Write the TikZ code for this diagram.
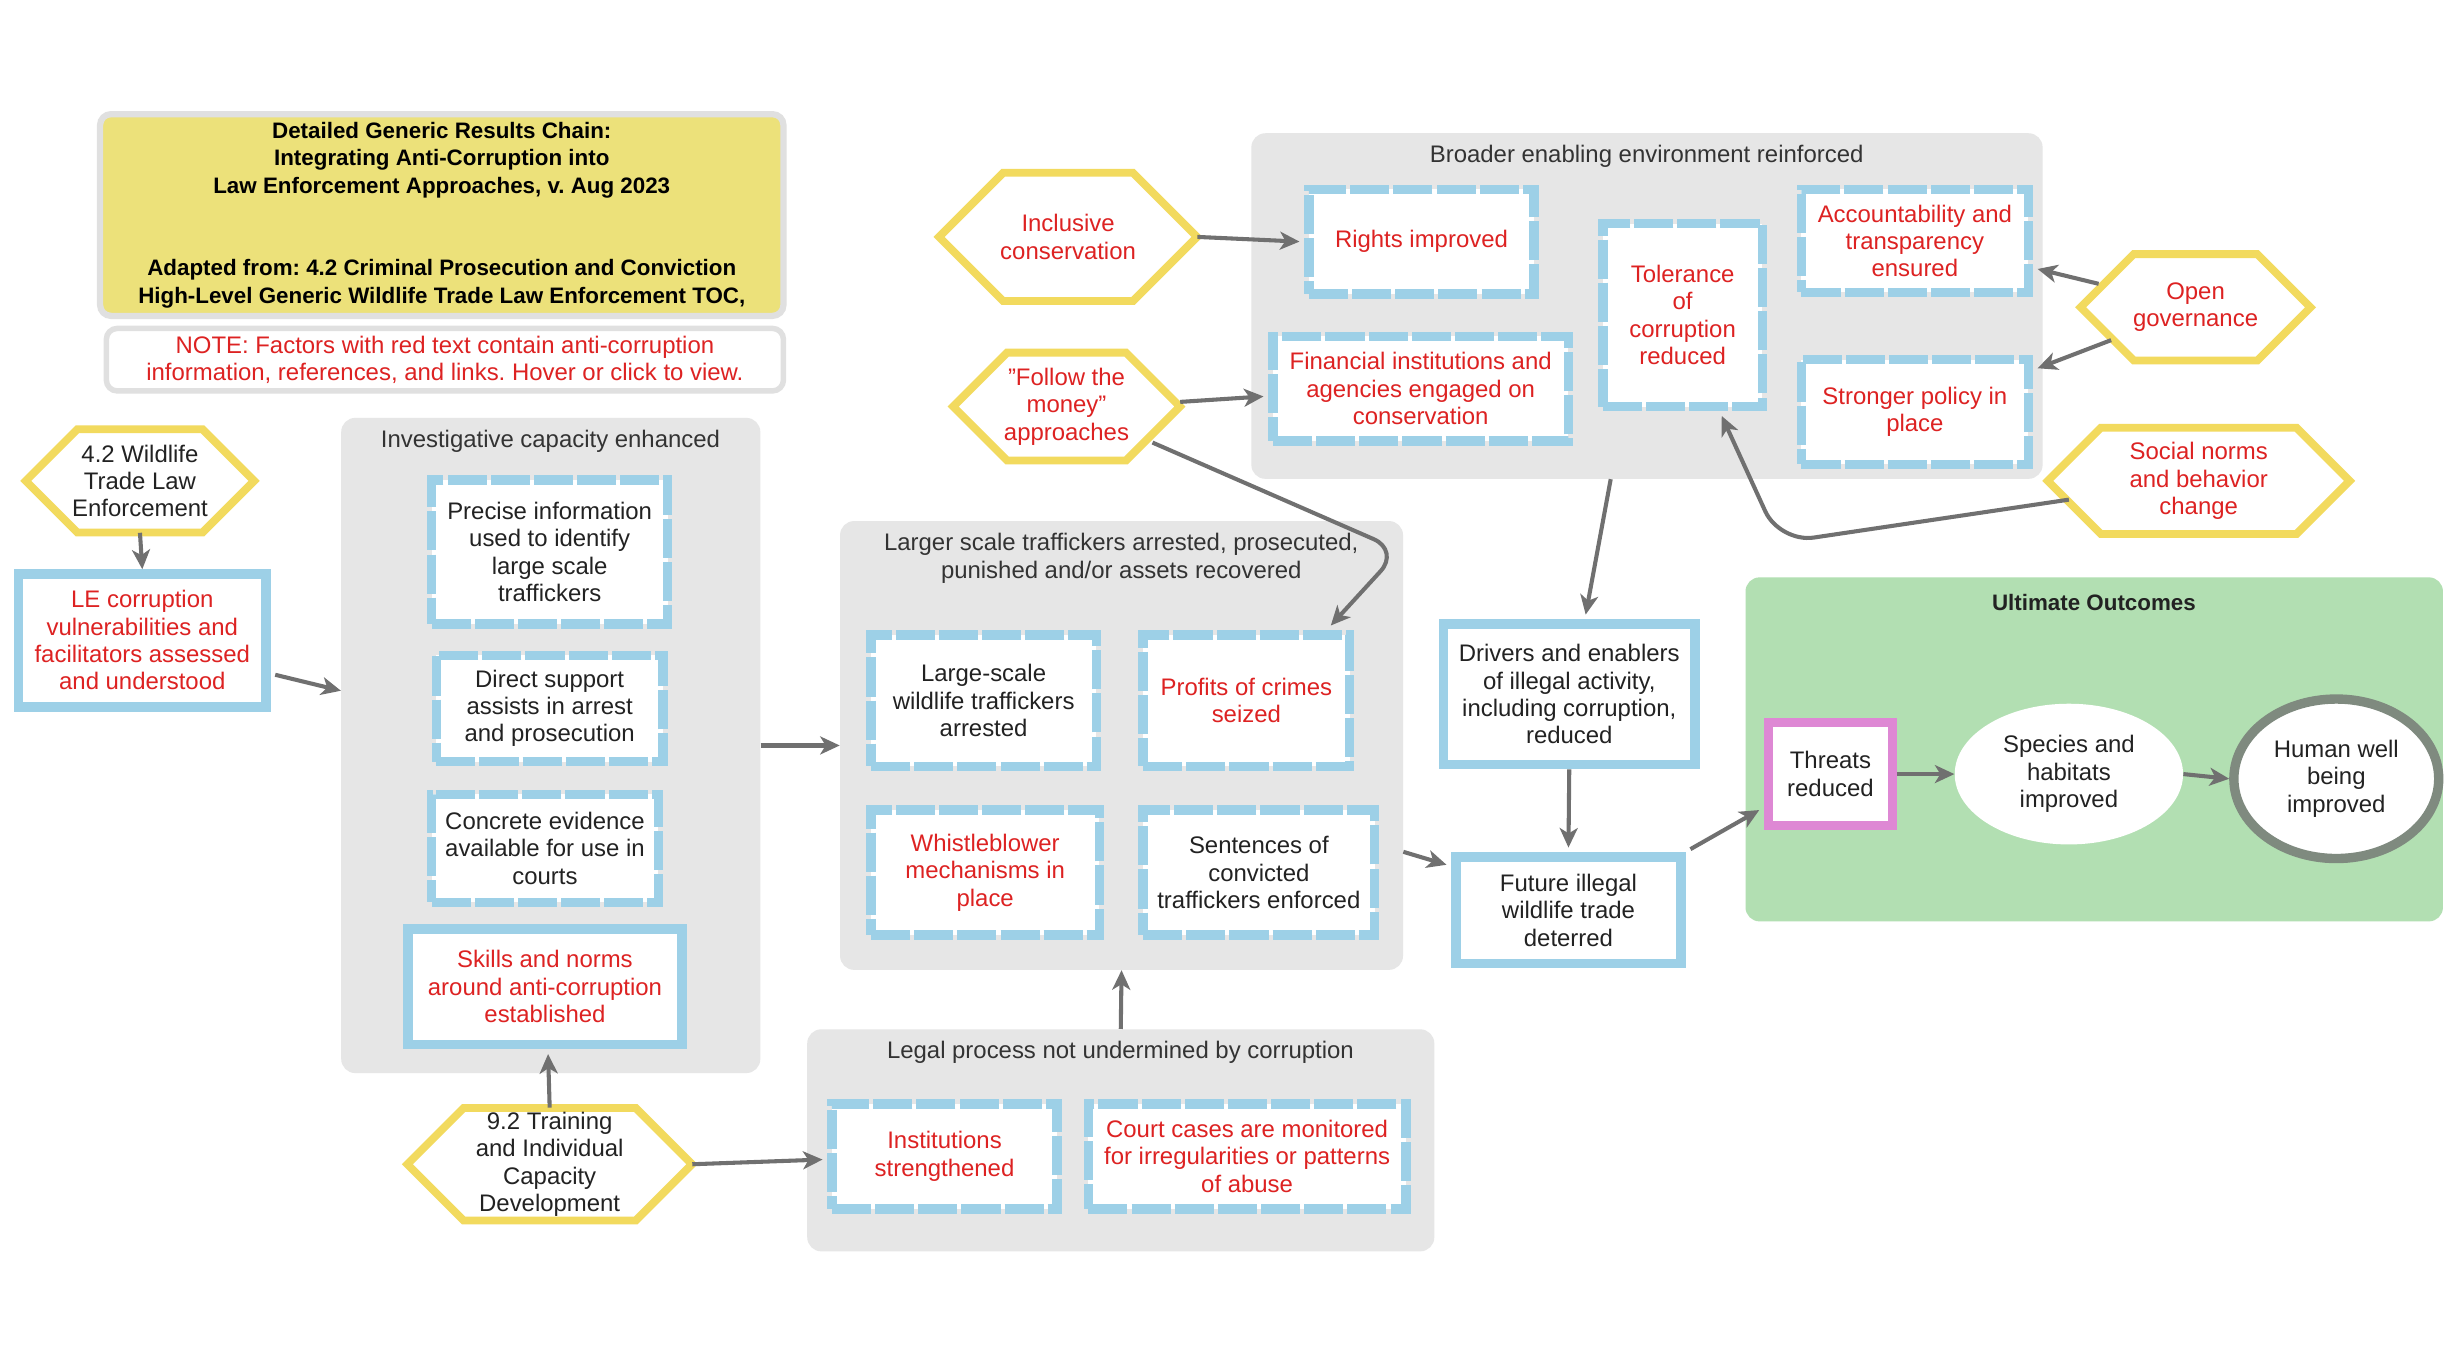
\documentclass[tikz,border=0pt]{standalone}
\usepackage{fontspec}
\setmainfont{Liberation Sans}
\frenchspacing
\usetikzlibrary{arrows.meta,calc,shapes.geometric}
\definecolor{lblue}{HTML}{9DD0E7}
\definecolor{hexy}{HTML}{F2DA5E}
\definecolor{titley}{HTML}{ECE17A}
\definecolor{grpgray}{HTML}{E6E6E6}
\definecolor{boxgray}{HTML}{E0E0E0}
\definecolor{ugreen}{HTML}{B2DFB2}
\definecolor{pinkb}{HTML}{DE88D4}
\definecolor{redt}{HTML}{DD2222}
\definecolor{arrg}{HTML}{707070}
\definecolor{humang}{HTML}{7F8A7F}
\definecolor{txt}{HTML}{222222}
\definecolor{grptxt}{HTML}{333333}
\tikzset{
  base/.style={align=center, font=\fontsize{15.3}{17.5}\selectfont\frenchspacing, text=txt, inner sep=0pt},
  redtxt/.style={text=redt},
  dbox/.style={base, draw=lblue, line width=6pt, dash pattern=on 25pt off 2.6pt, fill=white},
  sbox/.style={base, draw=lblue, line width=6pt, fill=white},
  grp/.style={fill=grpgray, rounded corners=9pt, draw=none, inner sep=0pt},
  grptitle/.style={base, text=grptxt},
  arr/.style={draw=arrg, line width=2.6pt, -{Stealth[length=12.5pt,width=11.5pt,inset=3.5pt]}},
  hexline/.style={draw=hexy, line width=5pt, fill=white, line join=miter},
}
\newcommand\hexnode[7]{%
  \pgfmathsetmacro\hxl{#2-#4/2+2.5}\pgfmathsetmacro\hxr{#2+#4/2-2.5}%
  \pgfmathsetmacro\hxa{#2-#4/2+#5/2}\pgfmathsetmacro\hxb{#2+#4/2-#5/2}%
  \pgfmathsetmacro\hxt{#3-#5/2+2.5}\pgfmathsetmacro\hxd{#3+#5/2-2.5}%
  \draw[hexline] (\hxl,#3) -- (\hxa,\hxt) -- (\hxb,\hxt) -- (\hxr,#3) -- (\hxb,\hxd) -- (\hxa,\hxd) -- cycle;
  \node[base, minimum width=#4pt-5pt, minimum height=#5pt-5pt, #6] (#1) at (#2,#3) {#7};
}
\begin{document}
\begin{tikzpicture}[x=1pt,y=-1pt]
\useasboundingbox[fill=white] (0,0) rectangle (1568,871);

% ---------- groups ----------
\node[grp, minimum width=506pt, minimum height=221pt, anchor=north west] (gbroad) at (800,85) {};
\node[grptitle] (tbroad) at (1053,100) {Broader enabling environment reinforced};
\node[grp, minimum width=268pt, minimum height=419pt, anchor=north west] (ginv) at (218,267) {};
\node[grptitle] (tinv) at (352,282) {Investigative capacity enhanced};
\node[grp, minimum width=360pt, minimum height=287pt, anchor=north west] (glarge) at (537,333) {};
\node[grptitle] (tlarge) at (717,357) {Larger scale traffickers arrested, prosecuted,\\punished and/or assets recovered};
\node[grp, minimum width=401pt, minimum height=142pt, anchor=north west] (glegal) at (516,658) {};
\node[grptitle] (tlegal) at (716.5,673) {Legal process not undermined by corruption};
\node[grp, fill=ugreen, minimum width=446pt, minimum height=220pt, anchor=north west] (gult) at (1116,369) {};
\node[base, font=\fontsize{14.3}{17.5}\selectfont\bfseries] (tult) at (1339,385) {Ultimate Outcomes};

% ---------- title and note ----------
\node[base, draw=boxgray, line width=4pt, fill=titley, rounded corners=7pt, minimum width=437pt, minimum height=129pt, font=\fontsize{14.3}{17.5}\selectfont\bfseries\frenchspacing, text=black] (title) at (282.5,137.5)
 {Detailed Generic Results Chain:\\Integrating Anti-Corruption into\\Law Enforcement Approaches, v. Aug 2023\\[35.5pt]Adapted from: 4.2 Criminal Prosecution and Conviction\\High-Level Generic Wildlife Trade Law Enforcement TOC,};
\node[base, redtxt, draw=boxgray, line width=3.5pt, fill=white, rounded corners=7pt, minimum width=433pt, minimum height=40pt] (note) at (284.5,230)
 {NOTE: Factors with red text contain anti-corruption\\information, references, and links. Hover or click to view.};

% ---------- hexagons ----------
\hexnode{hexA}{89.5}{307.5}{151}{71}{}{4.2 Wildlife\\Trade Law\\Enforcement}
\hexnode{hexB}{351.5}{744.5}{187}{77}{}{9.2 Training\\and Individual\\Capacity\\Development}
\hexnode{money}{682}{260}{150}{74}{redtxt}{"Follow the\\money"\\approaches}
\hexnode{incl}{683}{151.5}{170}{87}{redtxt}{Inclusive\\conservation}
\hexnode{og}{1404}{196.5}{152}{73}{redtxt}{Open\\governance}
\hexnode{social}{1406}{307.5}{198}{73}{redtxt}{Social norms\\and behavior\\change}

% ---------- boxes ----------
\node[sbox, redtxt, minimum width=158pt, minimum height=85pt] (le) at (91,409.5) {LE corruption\\vulnerabilities and\\facilitators assessed\\and understood};
\node[dbox, minimum width=151pt, minimum height=92pt] (prec) at (351.5,353) {Precise information\\used to identify\\large scale\\traffickers};
\node[dbox, minimum width=145pt, minimum height=68pt] (direct) at (351.5,453) {Direct support\\assists in arrest\\and prosecution};
\node[dbox, minimum width=145pt, minimum height=69pt] (concrete) at (348.5,542.5) {Concrete evidence\\available for use in\\courts};
\node[sbox, redtxt, minimum width=175pt, minimum height=74pt] (skills) at (348.5,631) {Skills and norms\\around anti-corruption\\established};

\node[dbox, redtxt, minimum width=144pt, minimum height=67pt] (inst) at (604,739.5) {Institutions\\strengthened};
\node[dbox, redtxt, minimum width=203pt, minimum height=67pt] (court) at (797.5,739.5) {Court cases are monitored\\for irregularities or patterns\\of abuse};

\node[dbox, minimum width=144pt, minimum height=84pt] (large) at (629,448) {Large-scale\\wildlife traffickers\\arrested};
\node[dbox, redtxt, minimum width=132pt, minimum height=84pt] (profits) at (797,448) {Profits of crimes\\seized};
\node[dbox, redtxt, minimum width=146pt, minimum height=80pt] (whistle) at (630,558) {Whistleblower\\mechanisms in\\place};
\node[dbox, minimum width=148pt, minimum height=80pt] (sent) at (805,558) {Sentences of\\convicted\\traffickers enforced};

\node[dbox, redtxt, minimum width=144pt, minimum height=67pt] (rights) at (909,154.5) {Rights improved};
\node[dbox, redtxt, minimum width=189pt, minimum height=67pt] (fin) at (908.5,248.5) {Financial institutions and\\agencies engaged on\\conservation};
\node[dbox, redtxt, minimum width=102pt, minimum height=117pt] (tol) at (1076,201.5) {Tolerance\\of\\corruption\\reduced};
\node[dbox, redtxt, minimum width=145pt, minimum height=66pt] (acc) at (1224.5,154) {Accountability and\\transparency\\ensured};
\node[dbox, redtxt, minimum width=145pt, minimum height=67pt] (strong) at (1224.5,263.5) {Stronger policy in\\place};

\node[sbox, minimum width=161pt, minimum height=90pt] (drivers) at (1003.5,444) {Drivers and enablers\\of illegal activity,\\including corruption,\\reduced};
\node[sbox, minimum width=144pt, minimum height=68pt] (future) at (1003,582) {Future illegal\\wildlife trade\\deterred};

\node[base, draw=pinkb, line width=6pt, fill=white, minimum width=79pt, minimum height=66pt] (threats) at (1170.5,495) {Threats\\reduced};
\node[base, ellipse, fill=white, minimum width=146pt, minimum height=90pt] (species) at (1323,495) {Species and\\habitats\\improved};
\node[base, ellipse, draw=humang, line width=6pt, fill=white, minimum width=131pt, minimum height=102pt] (human) at (1494,498) {Human well\\being\\improved};

% ---------- connectors ----------
\coordinate (bendA) at (895,352);
\coordinate (bendB) at (1138,347);
\draw[arr] (hexA.south) -- (le.north);
\draw[arr] ($(le.east)+(3,22)$) -- ($(ginv.west)+(0,-35)$);
\draw[arr] (ginv.east) -- (glarge.west);
\draw[arr] (hexB.north) -- ($(skills.south)+(2,3)$);
\draw[arr] (hexB.east) -- ($(inst.west)+(-3,2)$);
\draw[arr] (glegal.north) -- (glarge.south);
\draw[arr] ($(glarge.east)+(0,68)$) -- ($(future.west)+(-3,-29)$);
\draw[arr] (incl.east) -- ($(rights.west)+(-3,0)$);
\draw[arr] ($(money.east)+(0,-3)$) -- ($(fin.west)+(-3,5)$);
\draw[arr, rounded corners=18pt] ($(money.center)+(55,23)$) -- (bendA) -- ($(profits.north)+(54,-3)$);
\draw[arr] ($(og.center)+(-62,-15)$) -- ($(acc.east)+(3,18)$);
\draw[arr] ($(og.center)+(-54,21)$) -- ($(strong.east)+(3,-28)$);
\draw[arr, rounded corners=22pt] ($(social.center)+(-83,12)$) -- (bendB) -- ($(tol.south)+(25,3)$);
\draw[arr] ($(gbroad.south west)+(230,0)$) -- ($(drivers.north)+(10.5,-3)$);
\draw[arr] (drivers.south) -- ($(future.north)+(0,-3)$);
\draw[arr] ($(future.north east)+(3,-2)$) -- ($(threats.west)+(-3,23)$);
\draw[arr] (threats.east) -- (species.west);
\draw[arr] (species.east) -- (human.west);
\end{tikzpicture}
\end{document}
